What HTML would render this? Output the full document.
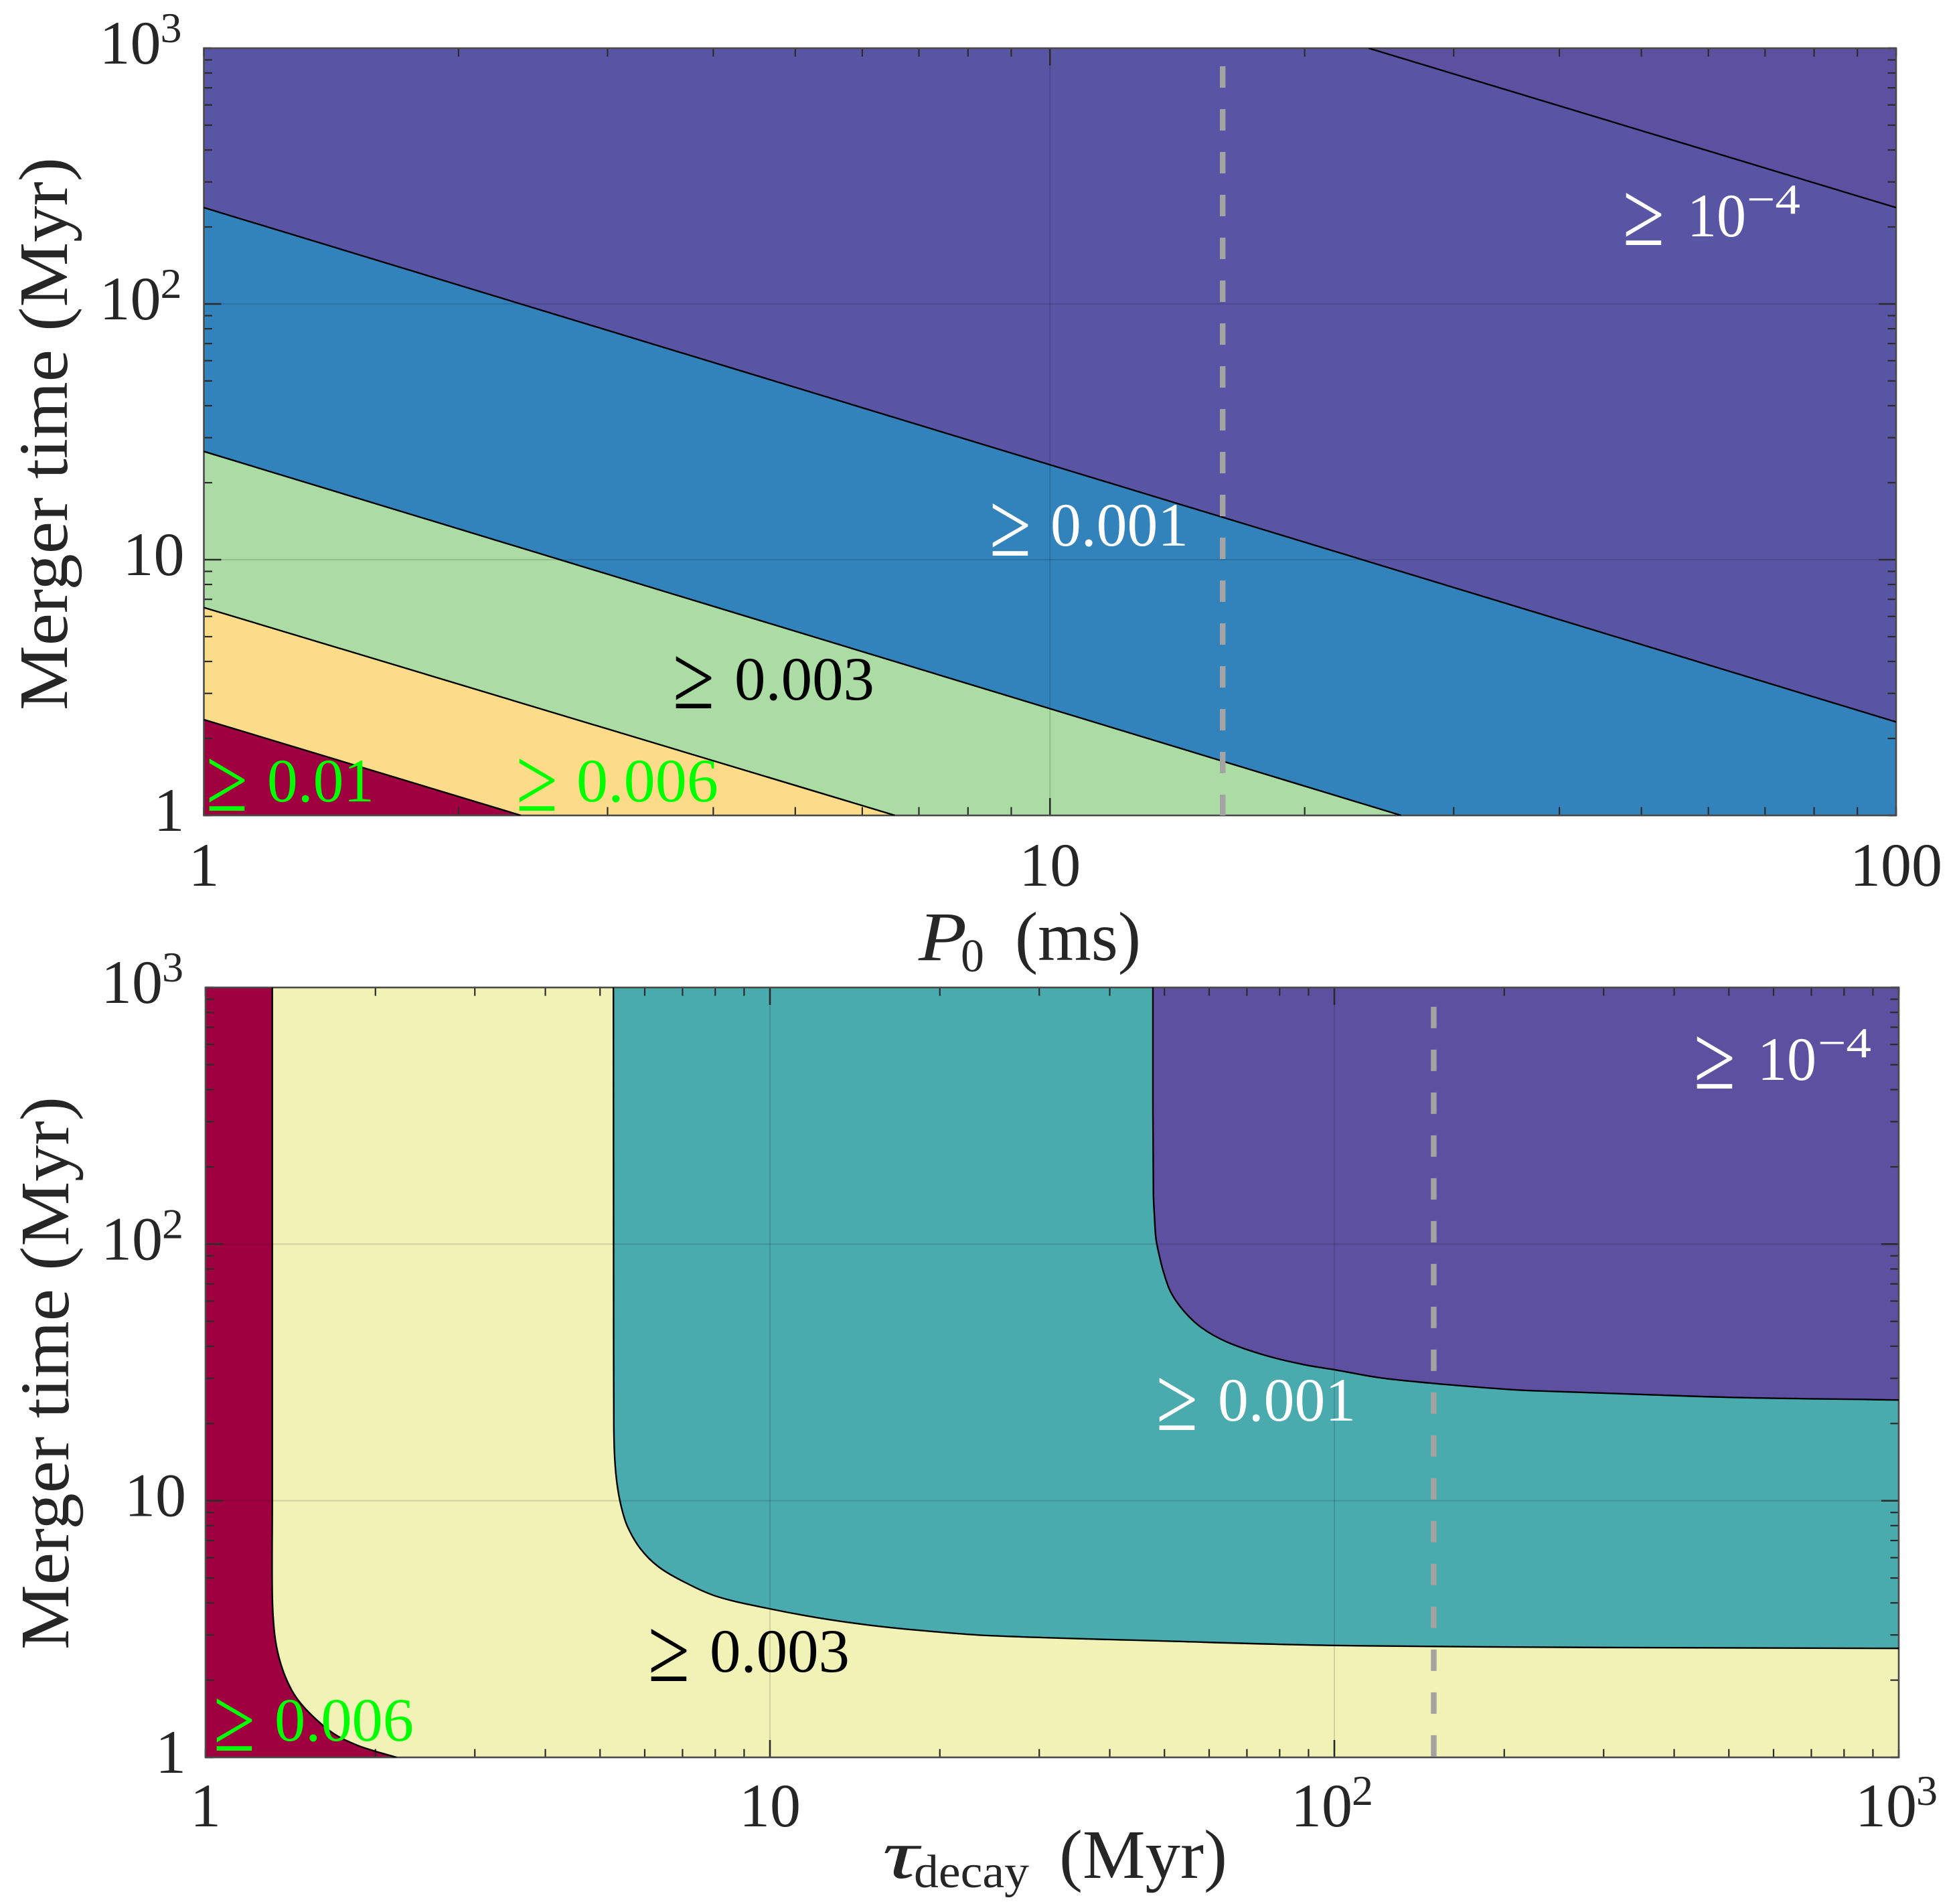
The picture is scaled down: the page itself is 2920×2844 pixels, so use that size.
<!DOCTYPE html>
<html lang="en">
<head>
<meta charset="utf-8">
<title>Merger time contours</title>
<style>
html,body{margin:0;padding:0;background:#fff;}
svg{display:block;}
text{font-family:"Liberation Serif","DejaVu Serif",serif;}
.tick{fill:#262626;font-size:92px;}
.sup{fill:#262626;font-size:64px;}
.ax{fill:#262626;font-size:104px;}
.n{font-size:92px;}
.g{font-size:136px;}
.s{font-size:64px;}
</style>
</head>
<body>
<svg id="figure" xmlns="http://www.w3.org/2000/svg" width="2920" height="2844" viewBox="0 0 2920 2844">
  <rect width="2920" height="2844" fill="#ffffff"/>
  <defs>
    <clipPath id="clip-top"><rect x="304.5" y="72" width="2527.5" height="1146"/></clipPath>
    <clipPath id="clip-bottom"><rect x="307" y="1475" width="2529" height="1150"/></clipPath>
  </defs>
  <g id="panel-top"></g>
  <g id="panel-bottom"></g>

  <text class="ax" transform="translate(100 1061) rotate(-90)" textLength="826" lengthAdjust="spacingAndGlyphs">Merger time (Myr)</text>
  <text class="ax" transform="translate(102 2464) rotate(-90)" textLength="826" lengthAdjust="spacingAndGlyphs">Merger time (Myr)</text>

  <g>
    <text class="ax" font-style="italic" x="1372" y="1434" textLength="72" lengthAdjust="spacingAndGlyphs">P</text>
    <text class="sup" x="1435" y="1451" style="font-size:70px">0</text>
    <text class="ax" x="1516" y="1434" textLength="188" lengthAdjust="spacingAndGlyphs">(ms)</text>
  </g>
  <g>
    <text class="ax" font-style="italic" x="1318" y="2805" textLength="54" lengthAdjust="spacingAndGlyphs">τ</text>
    <text class="sup" x="1365" y="2819" textLength="172" lengthAdjust="spacingAndGlyphs" style="font-size:70px">decay</text>
    <text class="ax" x="1582" y="2805" textLength="251" lengthAdjust="spacingAndGlyphs">(Myr)</text>
  </g>

  <g fill="#ffffff">
    <text class="g" x="2424" y="366" textLength="62" lengthAdjust="spacingAndGlyphs">≥</text>
    <text class="n" x="2520" y="353" textLength="88" lengthAdjust="spacingAndGlyphs">10</text>
    <text class="s" x="2609" y="319" textLength="80" lengthAdjust="spacingAndGlyphs">−4</text>
  </g>
  <g fill="#ffffff">
    <text class="g" x="1478" y="830" textLength="62" lengthAdjust="spacingAndGlyphs">≥</text>
    <text class="n" x="1569" y="815" textLength="206" lengthAdjust="spacingAndGlyphs">0.001</text>
  </g>
  <g fill="#000000">
    <text class="g" x="1005" y="1058" textLength="62" lengthAdjust="spacingAndGlyphs">≥</text>
    <text class="n" x="1097" y="1045" textLength="209" lengthAdjust="spacingAndGlyphs">0.003</text>
  </g>
  <g fill="#00ff00">
    <text class="g" x="771" y="1211" textLength="62" lengthAdjust="spacingAndGlyphs">≥</text>
    <text class="n" x="861" y="1197" textLength="212" lengthAdjust="spacingAndGlyphs">0.006</text>
  </g>
  <g fill="#00ff00">
    <text class="g" x="308" y="1211" textLength="62" lengthAdjust="spacingAndGlyphs">≥</text>
    <text class="n" x="399" y="1197" textLength="160" lengthAdjust="spacingAndGlyphs">0.01</text>
  </g>
  <g fill="#ffffff">
    <text class="g" x="2530" y="1626" textLength="62" lengthAdjust="spacingAndGlyphs">≥</text>
    <text class="n" x="2625" y="1613" textLength="88" lengthAdjust="spacingAndGlyphs">10</text>
    <text class="s" x="2715" y="1579" textLength="80" lengthAdjust="spacingAndGlyphs">−4</text>
  </g>
  <g fill="#ffffff">
    <text class="g" x="1727" y="2136" textLength="62" lengthAdjust="spacingAndGlyphs">≥</text>
    <text class="n" x="1819" y="2122" textLength="206" lengthAdjust="spacingAndGlyphs">0.001</text>
  </g>
  <g fill="#000000">
    <text class="g" x="968" y="2511" textLength="62" lengthAdjust="spacingAndGlyphs">≥</text>
    <text class="n" x="1060" y="2497" textLength="209" lengthAdjust="spacingAndGlyphs">0.003</text>
  </g>
  <g fill="#00ff00">
    <text class="g" x="319" y="2615" textLength="62" lengthAdjust="spacingAndGlyphs">≥</text>
    <text class="n" x="410" y="2600" textLength="208" lengthAdjust="spacingAndGlyphs">0.006</text>
  </g>
</svg>
<script>
// ---- data ----
const topTickValuesX = [1, 10, 100];
const topTickLabelsX = ['1', '10', '100'];
const topTickSupsX = ['', '', ''];
const bottomTickValuesX = [1, 10, 100, 1000];
const bottomTickLabelsX = ['1', '10', '10', '10'];
const bottomTickSupsX = ['', '', '2', '3'];
const tickValuesY = [1, 10, 100, 1000];
const tickLabelsY = ['1', '10', '10', '10'];
const tickSupsY = ['', '', '2', '3'];

// top panel: P0 (ms) vs merger time (Myr), contour boundaries
const topContourAP = [23.8, 100];
const topContourAT = [1000, 238];
const topContourBP = [1, 100];
const topContourBT = [238, 2.32];
const topContourCP = [1, 26];
const topContourCT = [26.5, 1];
const topContourDP = [1, 6.56];
const topContourDT = [6.5, 1];
const topContourEP = [1, 2.37];
const topContourET = [2.37, 1];
const topMarkerP = [16];
const topMarkerT = [1, 850];

// bottom panel: tau_decay (Myr) vs merger time (Myr), contour boundaries
const bottomContourATau = [1.313, 1.313, 1.313, 1.325, 1.35, 1.393, 1.451, 1.547, 1.69, 1.855, 2.0, 2.18];
const bottomContourAT = [1000, 9.5, 4.28, 3.04, 2.44, 2.0, 1.70, 1.45, 1.234, 1.116, 1.056, 1];
const bottomContourBTau = [5.28, 5.285, 5.29, 5.31, 5.36, 5.45, 5.59, 5.89, 6.34, 7.04, 8.07, 9.95, 12.25, 15.1, 18.6, 24.6, 50, 100, 300, 1000];
const bottomContourBT = [1000, 42, 19.2, 14.5, 11.6, 9.51, 7.95, 6.52, 5.54, 4.83, 4.23, 3.80, 3.49, 3.27, 3.12, 2.98, 2.84, 2.73, 2.68, 2.66];
const bottomContourCTau = [47.7, 47.7, 47.8, 48.0, 48.3, 49.0, 49.8, 51.3, 54.1, 58.2, 64.6, 75.6, 88.4, 100, 121, 149, 184, 219, 500, 1000];
const bottomContourCT = [1000, 350, 157, 128.5, 105, 89.6, 77.9, 65.0, 54.9, 47.2, 41.5, 36.8, 33.9, 32.4, 30.1, 28.7, 27.6, 26.9, 25.3, 24.7];
const bottomMarkerTau = [150];
const bottomMarkerT = [1, 841];

// ---- axis helpers ----
const NS = 'http://www.w3.org/2000/svg';
function makeAxis(dMin, dMax, pMin, pMax) {
  return function (v) {
    return pMin + (Math.log10(v) - Math.log10(dMin)) / (Math.log10(dMax) - Math.log10(dMin)) * (pMax - pMin);
  };
}
const topBox = { l: 304.5, r: 2832, t: 72, b: 1218, clip: 'clip-top' };
const bottomBox = { l: 307, r: 2836, t: 1475, b: 2625, clip: 'clip-bottom' };
const topX = makeAxis(1, 100, topBox.l, topBox.r);
const topY = makeAxis(1, 1000, topBox.b, topBox.t);
const bottomX = makeAxis(1, 1000, bottomBox.l, bottomBox.r);
const bottomY = makeAxis(1, 1000, bottomBox.b, bottomBox.t);

function mk(tag, attrs, parent) {
  const el = document.createElementNS(NS, tag);
  for (const k in attrs) el.setAttribute(k, attrs[k]);
  parent.appendChild(el);
  return el;
}
// smooth curve through the read points (control arms scaled to the adjacent segment)
function toPath(xs, ys, fx, fy) {
  const p = xs.map(function (v, i) { return [fx(v), fy(ys[i])]; });
  function tan(i) {
    const a = p[Math.max(i - 1, 0)], b = p[Math.min(i + 1, p.length - 1)];
    const dx = b[0] - a[0], dy = b[1] - a[1], n = Math.hypot(dx, dy) || 1;
    return [dx / n, dy / n];
  }
  let d = 'M' + p[0][0].toFixed(2) + ' ' + p[0][1].toFixed(2);
  for (let i = 0; i < p.length - 1; i++) {
    const len = Math.hypot(p[i + 1][0] - p[i][0], p[i + 1][1] - p[i][1]) / 3;
    const t0 = tan(i), t1 = tan(i + 1);
    d += ' C' + (p[i][0] + t0[0] * len).toFixed(2) + ' ' + (p[i][1] + t0[1] * len).toFixed(2) +
      ' ' + (p[i + 1][0] - t1[0] * len).toFixed(2) + ' ' + (p[i + 1][1] - t1[1] * len).toFixed(2) +
      ' ' + p[i + 1][0].toFixed(2) + ' ' + p[i + 1][1].toFixed(2);
  }
  return d;
}
function region(parent, name, xs, ys, closeX, closeY, fx, fy, color, box) {
  const tail = closeX.map(function (v, i) { return ' L' + fx(v).toFixed(2) + ' ' + fy(closeY[i]).toFixed(2); }).join('');
  const p = mk('path', { d: toPath(xs, ys, fx, fy) + tail + ' Z', fill: color, 'clip-path': 'url(#' + box.clip + ')' }, parent);
  
  
}
function contourLine(parent, name, xs, ys, fx, fy, box) {
  const p = mk('path', { d: toPath(xs, ys, fx, fy), fill: 'none', stroke: '#000000', 'stroke-width': 2.4, 'clip-path': 'url(#' + box.clip + ')' }, parent);
  
  
}
function gridAndTicks(parent, prefix, box, fx, fy, xTicks, yTicks) {
  const GRID = 'rgba(0,0,0,0.13)';
  const TICK = '#2b2b2b';
  const lg = mk('g', {}, parent);
  
  
  xTicks.slice(1, -1).forEach(function (v) {
    mk('line', { x1: fx(v), x2: fx(v), y1: box.t, y2: box.b, stroke: GRID, 'stroke-width': 2 }, lg);
  });
  yTicks.slice(1, -1).forEach(function (v) {
    mk('line', { x1: box.l, x2: box.r, y1: fy(v), y2: fy(v), stroke: GRID, 'stroke-width': 2 }, lg);
  });
  const tg = mk('g', { stroke: TICK }, parent);
  
  
  function eachTick(ticks, cb) {
    for (let i = 0; i < ticks.length; i++) {
      cb(ticks[i], i > 0 && i < ticks.length - 1 ? 26 : 12, 2.6);
      if (i < ticks.length - 1) {
        for (let m = 2; m < 10; m++) cb(ticks[i] * m, 12.5, 2.2);
      }
    }
  }
  eachTick(xTicks, function (v, len, w) {
    mk('line', { x1: fx(v), x2: fx(v), y1: box.b, y2: box.b - len, 'stroke-width': w }, tg);
    mk('line', { x1: fx(v), x2: fx(v), y1: box.t, y2: box.t + len, 'stroke-width': w }, tg);
  });
  eachTick(yTicks, function (v, len, w) {
    mk('line', { x1: box.l, x2: box.l + len, y1: fy(v), y2: fy(v), 'stroke-width': w }, tg);
    mk('line', { x1: box.r, x2: box.r - len, y1: fy(v), y2: fy(v), 'stroke-width': w }, tg);
  });
  const frame = mk('rect', { x: box.l, y: box.t, width: box.r - box.l, height: box.b - box.t, fill: 'none', stroke: '#4a4a4a', 'stroke-width': 2.6 }, parent);
  
  
}
function tickLabels(parent, prefix, box, fx, fy, xTicks, xLabs, xSups, yTicks, yLabs, ySups, xBase) {
  const xg = mk('g', {}, parent);
  
  
  xTicks.forEach(function (v, i) {
    const px = fx(v);
    if (xSups[i]) {
      const a = mk('text', { class: 'tick', x: px + 27, y: xBase, 'text-anchor': 'end' }, xg);
      a.textContent = xLabs[i];
      const b = mk('text', { class: 'sup', x: px + 26, y: xBase - 32 }, xg);
      b.textContent = xSups[i];
    } else {
      const a = mk('text', { class: 'tick', x: px, y: xBase, 'text-anchor': 'middle' }, xg);
      a.textContent = xLabs[i];
    }
  });
  const yg = mk('g', {}, parent);
  
  
  yTicks.forEach(function (v, i) {
    const py = fy(v) + 23;
    if (ySups[i]) {
      const a = mk('text', { class: 'tick', x: box.l - 64, y: py, 'text-anchor': 'end' }, yg);
      a.textContent = yLabs[i];
      const b = mk('text', { class: 'sup', x: box.l - 65, y: py - 32 }, yg);
      b.textContent = ySups[i];
    } else {
      const a = mk('text', { class: 'tick', x: box.l - 29, y: py, 'text-anchor': 'end' }, yg);
      a.textContent = yLabs[i];
    }
  });
}
function marker(parent, name, xv, ys, fx, fy) {
  const l = mk('line', { x1: fx(xv), x2: fx(xv), y1: fy(ys[1]), y2: fy(ys[0]), stroke: '#a3a3a3', 'stroke-width': 8.4, 'stroke-dasharray': '32 32' }, parent);
  
  
}

// ---- top panel ----
const pt = document.getElementById('panel-top');
const bgTop = mk('rect', { x: topBox.l, y: topBox.t, width: topBox.r - topBox.l, height: topBox.b - topBox.t, fill: '#5e50a1' }, pt);


region(pt, 'top-region-1e-4', topContourAP, topContourAT, [100, 1, 1], [1, 1, 1000], topX, topY, '#5955a5', topBox);
region(pt, 'top-region-0-001', topContourBP, topContourBT, [100, 1], [1, 1], topX, topY, '#3282bb', topBox);
region(pt, 'top-region-0-003', topContourCP, topContourCT, [1], [1], topX, topY, '#abdca3', topBox);
region(pt, 'top-region-0-006', topContourDP, topContourDT, [1], [1], topX, topY, '#fcdc88', topBox);
region(pt, 'top-region-0-01', topContourEP, topContourET, [1], [1], topX, topY, '#9e0040', topBox);
gridAndTicks(pt, 'top', topBox, topX, topY, topTickValuesX, tickValuesY);
contourLine(pt, 'top-contour-a', topContourAP, topContourAT, topX, topY, topBox);
contourLine(pt, 'top-contour-b', topContourBP, topContourBT, topX, topY, topBox);
contourLine(pt, 'top-contour-c', topContourCP, topContourCT, topX, topY, topBox);
contourLine(pt, 'top-contour-d', topContourDP, topContourDT, topX, topY, topBox);
contourLine(pt, 'top-contour-e', topContourEP, topContourET, topX, topY, topBox);
marker(pt, 'top-reference-dashed-line', topMarkerP[0], topMarkerT, topX, topY);
tickLabels(pt, 'top', topBox, topX, topY, topTickValuesX, topTickLabelsX, topTickSupsX, tickValuesY, tickLabelsY, tickSupsY, 1323);

// ---- bottom panel ----
const pb = document.getElementById('panel-bottom');
const bgBottom = mk('rect', { x: bottomBox.l, y: bottomBox.t, width: bottomBox.r - bottomBox.l, height: bottomBox.b - bottomBox.t, fill: '#9e0040' }, pb);


region(pb, 'bottom-region-0-003', bottomContourATau, bottomContourAT, [1000, 1000], [1, 1000], bottomX, bottomY, '#f1f2b5', bottomBox);
region(pb, 'bottom-region-0-001', bottomContourBTau, bottomContourBT, [1000], [1000], bottomX, bottomY, '#4aabae', bottomBox);
region(pb, 'bottom-region-1e-4', bottomContourCTau, bottomContourCT, [1000], [1000], bottomX, bottomY, '#5e50a1', bottomBox);
gridAndTicks(pb, 'bottom', bottomBox, bottomX, bottomY, bottomTickValuesX, tickValuesY);
contourLine(pb, 'bottom-contour-a', bottomContourATau, bottomContourAT, bottomX, bottomY, bottomBox);
contourLine(pb, 'bottom-contour-b', bottomContourBTau, bottomContourBT, bottomX, bottomY, bottomBox);
contourLine(pb, 'bottom-contour-c', bottomContourCTau, bottomContourCT, bottomX, bottomY, bottomBox);
marker(pb, 'bottom-reference-dashed-line', bottomMarkerTau[0], bottomMarkerT, bottomX, bottomY);
tickLabels(pb, 'bottom', bottomBox, bottomX, bottomY, bottomTickValuesX, bottomTickLabelsX, bottomTickSupsX, tickValuesY, tickLabelsY, tickSupsY, 2728);
</script>
</body>
</html>
